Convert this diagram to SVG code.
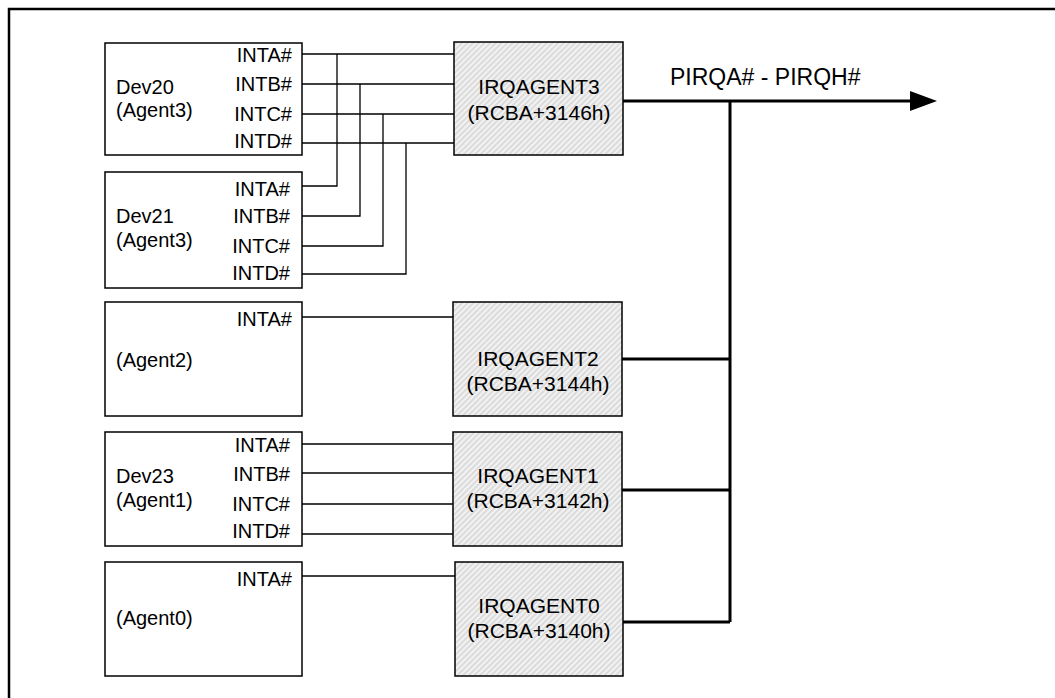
<svg xmlns="http://www.w3.org/2000/svg" width="1055" height="698" viewBox="0 0 1055 698">
<defs>
<pattern id="hatch" patternUnits="userSpaceOnUse" width="4" height="4" patternTransform="rotate(45)">
<rect width="4" height="4" fill="#f2f2f2"/>
<line x1="1" y1="0" x2="1" y2="4" stroke="#d2d2d2" stroke-width="1.4"/>
</pattern>
</defs>
<style>
.dev{fill:#fff;stroke:#000;stroke-width:1.5}
.irq{fill:url(#hatch);stroke:#000;stroke-width:1.5}
text{font-family:"Liberation Sans",Arial,sans-serif;fill:#000}
.t{font-size:20px}
.r{font-size:20px;text-anchor:end}
.c{font-size:21px;text-anchor:middle}
.w{fill:none;stroke:#000;stroke-width:1.3}
.b{fill:none;stroke:#000;stroke-width:3}
</style>
<rect width="1055" height="698" fill="#fff"/>
<path d="M9 698V9H1055" fill="none" stroke="#000" stroke-width="2.5"/>

<g id="dev20">
<rect class="dev" x="105" y="43" width="197" height="112"/>
<text class="t" x="116" y="94">Dev20</text>
<text class="t" x="116" y="117">(Agent3)</text>
<text class="r" x="292" y="62">INTA#</text>
<text class="r" x="292" y="91">INTB#</text>
<text class="r" x="292" y="121">INTC#</text>
<text class="r" x="292" y="148">INTD#</text>
</g>
<g id="dev21">
<rect class="dev" x="105" y="172" width="197" height="116"/>
<text class="t" x="116" y="223">Dev21</text>
<text class="t" x="116" y="247">(Agent3)</text>
<text class="r" x="290" y="196">INTA#</text>
<text class="r" x="290" y="223">INTB#</text>
<text class="r" x="290" y="253">INTC#</text>
<text class="r" x="290" y="280">INTD#</text>
</g>
<g id="agent2">
<rect class="dev" x="105" y="302" width="197" height="114"/>
<text class="t" x="116" y="367">(Agent2)</text>
<text class="r" x="292" y="326">INTA#</text>
</g>
<g id="dev23">
<rect class="dev" x="105" y="432" width="197" height="114"/>
<text class="t" x="116" y="483">Dev23</text>
<text class="t" x="116" y="507">(Agent1)</text>
<text class="r" x="290" y="452">INTA#</text>
<text class="r" x="290" y="481">INTB#</text>
<text class="r" x="290" y="511">INTC#</text>
<text class="r" x="290" y="538">INTD#</text>
</g>
<g id="agent0">
<rect class="dev" x="105" y="562" width="197" height="114"/>
<text class="t" x="116" y="625">(Agent0)</text>
<text class="r" x="292" y="586">INTA#</text>
</g>

<g id="irqagent3">
<rect class="irq" x="454" y="42" width="169" height="113"/>
<text class="c" x="539" y="94">IRQAGENT3</text>
<text class="c" x="539" y="120">(RCBA+3146h)</text>
</g>
<g id="irqagent2">
<rect class="irq" x="453" y="302" width="169" height="114"/>
<text class="c" x="538" y="366">IRQAGENT2</text>
<text class="c" x="538" y="391">(RCBA+3144h)</text>
</g>
<g id="irqagent1">
<rect class="irq" x="453" y="432" width="169" height="114"/>
<text class="c" x="538" y="483">IRQAGENT1</text>
<text class="c" x="538" y="508">(RCBA+3142h)</text>
</g>
<g id="irqagent0">
<rect class="irq" x="455" y="562" width="168" height="114"/>
<text class="c" x="539" y="613">IRQAGENT0</text>
<text class="c" x="539" y="638">(RCBA+3140h)</text>
</g>

<g id="connectors">
<path class="w" d="M302 54H454M302 84H454M302 114H454M302 143H454"/>
<path class="w" d="M302 186H337V54M302 216H360V84M302 246H383V114M302 274H406V143"/>
<path class="w" d="M302 317H453"/>
<path class="w" d="M302 444H453M302 473H453M302 504H453M302 534H453"/>
<path class="w" d="M302 576H455"/>
<path class="b" d="M623 101H912M730 101V622M622 359H730M622 490H730M623 622H730"/>
<polygon points="910,91 937,101 910,111" fill="#000"/>
<text x="670" y="85" style="font-size:23px">PIRQA# - PIRQH#</text>
</g>
</svg>
